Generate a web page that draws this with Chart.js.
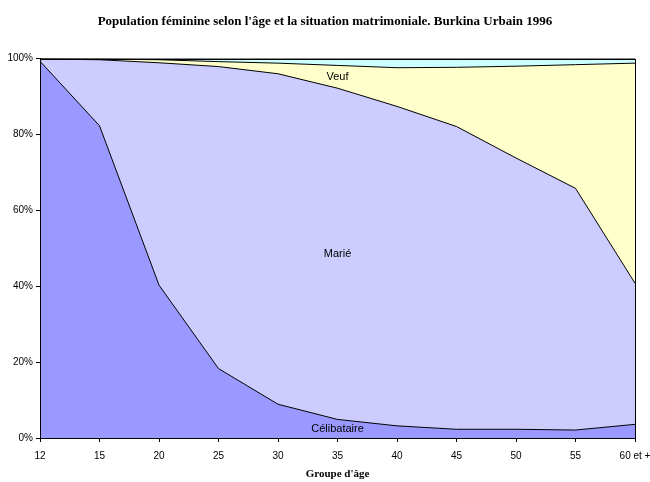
<!DOCTYPE html>
<html>
<head>
<meta charset="utf-8">
<script src="https://cdn.jsdelivr.net/npm/chart.js@4/dist/chart.umd.min.js"></script>
<style>
  html, body { margin: 0; padding: 0; background: #fff; }
  #wrap { width: 650px; height: 482px; position: relative; }
</style>
</head>
<body>
<div id="wrap"><canvas id="chart"></canvas></div>
<script>
// Data (percent of women per age group)
const ageGroups = ['12', '15', '20', '25', '30', '35', '40', '45', '50', '55', '60 et +'];
const celibataire = [99.3, 82.3, 40.3, 18.3, 8.9, 4.9, 3.2, 2.3, 2.3, 2.1, 3.6];
const marie = [0.6, 17.4, 58.6, 79.6, 87.1, 87.3, 84.2, 79.8, 71.5, 63.7, 37.2];
const veuf = [0.1, 0.2, 0.8, 1.3, 2.8, 6.0, 10.2, 15.6, 24.2, 32.6, 58.0];
const divorce = [0.0, 0.1, 0.3, 0.8, 1.2, 1.8, 2.4, 2.3, 2.0, 1.6, 1.2];
const yTicks = [0, 20, 40, 60, 80, 100];

const sansFont = "'Liberation Sans', Arial, sans-serif";
const serifFont = "'Liberation Serif', 'Times New Roman', serif";

Chart.defaults.color = '#000';
Chart.defaults.font.family = sansFont;

// Series names written inside each band, at the "35" column
const labelIndex = 5;
const bandLabels = {
  id: 'bandLabels',
  afterDatasetsDraw(chart) {
    const ctx = chart.ctx;
    const y = chart.scales.y;
    ctx.save();
    ctx.font = '11px ' + sansFont;
    ctx.fillStyle = '#000';
    ctx.textAlign = 'center';
    ctx.textBaseline = 'middle';
    let base = 0;
    chart.data.datasets.forEach((ds) => {
      const v = ds.data[labelIndex];
      if (ds.showName) {
        const px = chart.scales.x.getPixelForValue(labelIndex);
        const py = y.getPixelForValue(base + v / 2);
        ctx.fillText(ds.label, px, py);
      }
      base += v;
    });
    // frame round the plot area
    const a = chart.chartArea;
    ctx.strokeStyle = '#000';
    ctx.lineWidth = 1;
    ctx.strokeRect(Math.round(a.left) + 0.5, Math.round(a.top) + 0.5,
      Math.round(a.right - a.left), Math.round(a.bottom - a.top));
    ctx.restore();
  }
};

const area = (label, data, color, fill, showName) => ({
  label, data, showName,
  backgroundColor: color,
  borderColor: '#000',
  borderWidth: 1,
  fill,
  pointRadius: 0,
  tension: 0
});

new Chart(document.getElementById('chart'), {
  type: 'line',
  data: {
    labels: ageGroups,
    datasets: [
      area('Célibataire', celibataire, '#9999FF', 'origin', true),
      area('Marié', marie, '#CCCCFF', '-1', true),
      area('Veuf', veuf, '#FFFFCC', '-1', true),
      area('Divorcé', divorce, '#CCFFFF', '-1', false)
    ]
  },
  options: {
    responsive: true,
    maintainAspectRatio: false,
    animation: false,
    layout: { padding: 0 },
    plugins: {
      legend: { display: false },
      tooltip: { enabled: false },
      title: {
        display: true,
        text: "Population féminine selon l'âge et la situation matrimoniale. Burkina Urbain 1996",
        font: { family: serifFont, size: 13, weight: 'bold' },
        color: '#000',
        padding: { top: 14, bottom: 29 }
      }
    },
    scales: {
      x: {
        offset: false,
        afterFit: (s) => { s.height = 44; s.paddingRight = 15; },
        grid: { drawOnChartArea: false, color: '#000', tickLength: 4 },
        border: { color: '#000' },
        ticks: { font: { size: 10 }, padding: 8, maxRotation: 0, autoSkip: false },
        title: {
          display: true,
          text: "Groupe d'âge",
          font: { family: serifFont, size: 11, weight: 'bold' },
          padding: { top: 0, bottom: 1 }
        }
      },
      y: {
        stacked: true,
        min: 0,
        max: 100,
        afterFit: (s) => { s.width = 40; },
        afterBuildTicks: (s) => { s.ticks = yTicks.map(v => ({ value: v })); },
        grid: { drawOnChartArea: false, color: '#000', tickLength: 4 },
        border: { color: '#000' },
        ticks: { font: { size: 10 }, padding: 3, callback: (v) => v + '%' }
      }
    }
  },
  plugins: [bandLabels]
});
</script>
</body>
</html>
